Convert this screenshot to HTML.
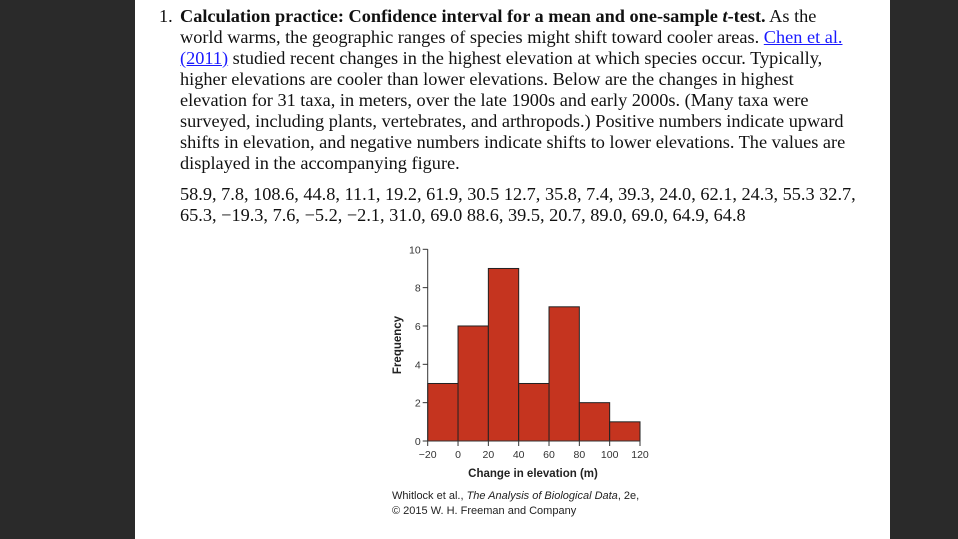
<!DOCTYPE html>
<html><head><meta charset="utf-8">
<style>
body{margin:0;width:958px;height:539px;background:#2a2a2a;overflow:hidden;font-family:"Liberation Serif",serif;}
#page{position:absolute;left:135px;top:0;width:755px;height:539px;background:#fff;}
.ln{position:absolute;left:45px;font-size:18.3px;line-height:21px;white-space:nowrap;color:#111;}
a{color:#1a1aff;text-decoration:underline;}
svg text{font-family:"Liberation Sans",sans-serif;}
</style></head><body>
<div id="page">
<div class="ln" style="left:24px;top:6px">1.</div>
<div class="ln" style="top:6px"><b>Calculation practice: Confidence interval for a mean and one-sample <i>t</i>-test.</b> As the</div>
<div class="ln" style="top:27px">world warms, the geographic ranges of species might shift toward cooler areas. <a>Chen et al.</a></div>
<div class="ln" style="top:48px"><a>(2011)</a> studied recent changes in the highest elevation at which species occur. Typically,</div>
<div class="ln" style="top:69px">higher elevations are cooler than lower elevations. Below are the changes in highest</div>
<div class="ln" style="top:90px">elevation for 31 taxa, in meters, over the late 1900s and early 2000s. (Many taxa were</div>
<div class="ln" style="top:111px">surveyed, including plants, vertebrates, and arthropods.) Positive numbers indicate upward</div>
<div class="ln" style="top:132px">shifts in elevation, and negative numbers indicate shifts to lower elevations. The values are</div>
<div class="ln" style="top:153px">displayed in the accompanying figure.</div>
<div class="ln" style="top:184px">58.9, 7.8, 108.6, 44.8, 11.1, 19.2, 61.9, 30.5 12.7, 35.8, 7.4, 39.3, 24.0, 62.1, 24.3, 55.3 32.7,</div>
<div class="ln" style="top:205px">65.3, −19.3, 7.6, −5.2, −2.1, 31.0, 69.0 88.6, 39.5, 20.7, 89.0, 69.0, 64.9, 64.8</div>
</div>
<svg id="chart" width="958" height="539" style="position:absolute;left:0;top:0"></svg>
<script>
const binEdges=[-20,0,20,40,60,80,100,120];
const counts=[3,6,9,3,7,2,1];
const yTicks=[0,2,4,6,8,10];
const xTicks=[-20,0,20,40,60,80,100,120];
const NS="http://www.w3.org/2000/svg";
const svg=document.getElementById('chart');
const x=v=>427.7+(v+20)*(640-427.7)/140;
const y=v=>441-v*19.17;
function mk(t,a,p){const e=document.createElementNS(NS,t);for(const k in a)e.setAttribute(k,a[k]);(p||svg).appendChild(e);return e;}
for(let i=0;i<counts.length;i++){
 const r=mk('rect',{x:x(binEdges[i]),y:y(counts[i]),width:x(binEdges[i+1])-x(binEdges[i]),height:y(0)-y(counts[i]),fill:'#c5341f',stroke:'#222','stroke-width':1});
 
 
}
const ax=mk('line',{x1:x(-20),y1:y(0),x2:x(120),y2:y(0),stroke:'#333'});


const ay=mk('line',{x1:x(-20),y1:y(0),x2:x(-20),y2:y(10),stroke:'#333'});


yTicks.forEach(v=>{
 mk('line',{x1:x(-20)-5,x2:x(-20),y1:y(v),y2:y(v),stroke:'#333'});
 const t=mk('text',{x:x(-20)-7,y:y(v)+4,'text-anchor':'end','font-size':10.5,fill:'#333'});t.textContent=v;
 
 
});
xTicks.forEach(v=>{
 mk('line',{x1:x(v),x2:x(v),y1:y(0),y2:y(0)+5,stroke:'#333'});
 const t=mk('text',{x:x(v),y:y(0)+17,'text-anchor':'middle','font-size':10.5,fill:'#333'});t.textContent=v<0?'−'+(-v):v;
 
 
});
const xt=mk('text',{x:533,y:477,'text-anchor':'middle','font-size':11.5,'font-weight':'bold',fill:'#222'});xt.textContent='Change in elevation (m)';


const yt=mk('text',{x:0,y:0,'text-anchor':'middle','font-size':11.5,'font-weight':'bold',fill:'#222',transform:'translate(401,345) rotate(-90)'});yt.textContent='Frequency';


const c1=mk('text',{x:392,y:499,'font-size':11,fill:'#222'});c1.innerHTML='Whitlock et al., <tspan font-style="italic">The Analysis of Biological Data</tspan>, 2e,';


const c2=mk('text',{x:392,y:514,'font-size':11,fill:'#222'});c2.textContent='© 2015 W. H. Freeman and Company';


</script>
</body></html>
